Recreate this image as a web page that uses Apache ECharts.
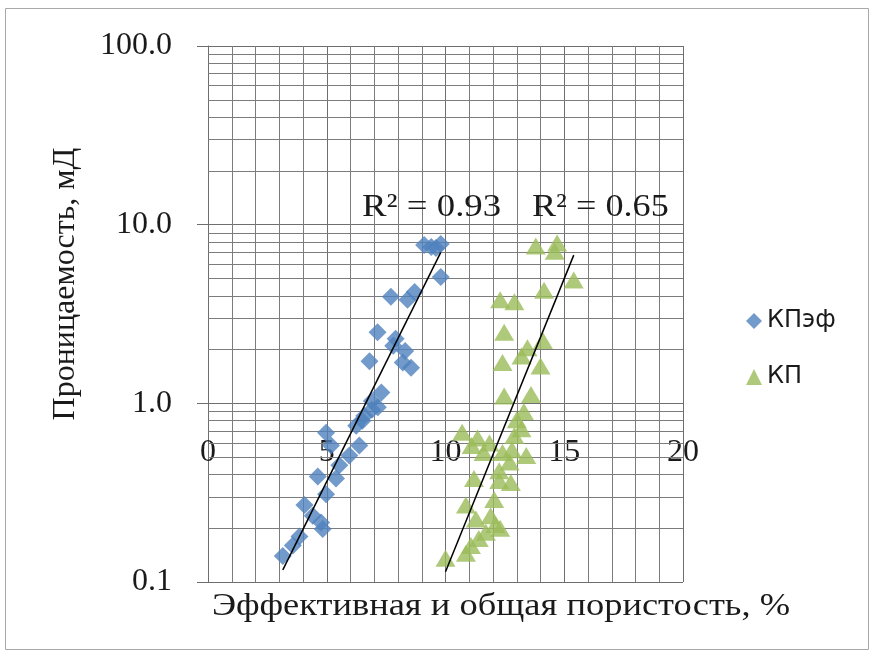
<!DOCTYPE html>
<html>
<head>
<meta charset="utf-8">
<script src="https://cdn.jsdelivr.net/npm/echarts@6/dist/echarts.min.js"></script>
<style>
  html, body { margin: 0; padding: 0; background: #ffffff; }
  #chart { width: 876px; height: 657px; }
</style>
</head>
<body>
<div id="chart"></div>
<script>
// Effective porosity (%) vs permeability (mD)
const effPorosity = [9.1, 9.4, 9.8, 9.6, 9.8, 7.7, 8.4, 8.7, 7.14, 7.9, 7.8, 8.3, 6.8, 8.2, 8.55,
  7.3, 6.9, 7.15, 6.9, 6.58, 6.5, 6.24, 4.97, 5.18, 6.37, 5.95, 5.53, 4.62, 5.39, 4.97,
  4.06, 4.41, 4.76, 4.83, 3.85, 3.57, 3.15];
const effPerm = [7.7, 7.5, 7.8, 7.4, 5.1, 3.95, 3.8, 4.2, 2.5, 2.3, 2.1, 1.96, 1.72, 1.69, 1.58,
  1.15, 1.03, 0.95, 0.92, 0.85, 0.8, 0.75, 0.685, 0.58, 0.58, 0.51, 0.45, 0.39, 0.38, 0.31,
  0.27, 0.235, 0.215, 0.198, 0.18, 0.16, 0.14];

// Total porosity (%) vs permeability (mD)
const totPorosity = [13.8, 14.7, 14.6, 15.4, 14.15, 12.3, 12.9, 12.47, 14.1, 13.45, 13.2, 14.0, 12.4,
  12.47, 13.6, 13.0, 13.3, 13.2, 12.9, 10.7, 11.35, 11.85, 11.1, 11.6, 12.4, 12.8, 13.4, 12.7,
  12.26, 11.2, 12.26, 12.75, 12.05, 10.86, 11.28, 11.9, 12.1, 12.3, 11.7, 11.4, 11.07, 10.86, 10.0];
const totPerm = [7.6, 7.9, 7.1, 4.9, 4.3, 3.8, 3.7, 2.5, 2.25, 2.05, 1.84, 1.62, 1.69,
  1.1, 1.12, 0.81, 0.9, 0.72, 0.66, 0.69, 0.64, 0.6, 0.58, 0.53, 0.53, 0.55, 0.51, 0.47,
  0.42, 0.38, 0.37, 0.36, 0.29, 0.27, 0.225, 0.235, 0.21, 0.2, 0.19, 0.175, 0.16, 0.145, 0.136];

const seriesNames = ['КПэф', 'КП'];
const r2Texts = ['R² = 0.93', 'R² = 0.65'];
const xTitle = 'Эффективная и общая пористость, %';
const yTitle = 'Проницаемость, мД';
const xMin = 0, xMax = 20, xStep = 5;
const yMin = 0.1, yMax = 100;

const BLUE = '#4F81BD';
const GREEN = '#9BBB59';
const GRID_MAJOR = '#6e6e6e';
const GRID_MINOR = '#7c7c7c';
const SERIF = 'Liberation Serif';
const TEXT = '#1a1a1a';

function pairs(xs, ys) { return xs.map((x, i) => [x, ys[i]]); }

// Exponential least-squares fit (straight line on the log axis), spanning the data's x range
function expTrend(xs, ys) {
  const n = xs.length;
  const ly = ys.map(v => Math.log10(v));
  const mx = xs.reduce((a, b) => a + b, 0) / n;
  const my = ly.reduce((a, b) => a + b, 0) / n;
  let sxy = 0, sxx = 0;
  for (let i = 0; i < n; i++) { sxy += (xs[i] - mx) * (ly[i] - my); sxx += (xs[i] - mx) ** 2; }
  const b = sxy / sxx, a = my - b * mx;
  const x0 = Math.min(...xs), x1 = Math.max(...xs);
  return [[x0, Math.pow(10, a + b * x0)], [x1, Math.pow(10, a + b * x1)]];
}

// Minor log grid values: 2..9 within each decade
const minorLogValues = [];
for (let d = yMin; d < yMax; d *= 10) {
  for (let k = 2; k <= 9; k++) minorLogValues.push(+(d * k).toPrecision(3));
}

const chart = echarts.init(document.getElementById('chart'), null, { renderer: 'canvas' });

chart.setOption({
  backgroundColor: '#ffffff',
  animation: false,
  grid: { left: 208, right: 193, top: 46, bottom: 75 },
  legend: {
    orient: 'vertical',
    left: 741,
    top: 304,
    itemGap: 32,
    itemWidth: 16,
    itemHeight: 16,
    data: seriesNames,
    textStyle: { fontFamily: 'DejaVu Sans', fontSize: 24, color: TEXT }
  },
  xAxis: {
    type: 'value',
    min: xMin, max: xMax, interval: xStep,
    position: 'bottom',
    offset: -178,
    axisLine: { show: false },
    axisTick: { show: false },
    axisLabel: { margin: 33, fontFamily: SERIF, fontSize: 32, color: TEXT },
    splitLine: { show: true, lineStyle: { color: GRID_MAJOR, width: 1 } },
    minorTick: { show: false, splitNumber: 5 },
    minorSplitLine: { show: true, lineStyle: { color: GRID_MINOR, width: 1 } }
  },
  yAxis: {
    type: 'log',
    logBase: 10,
    min: yMin, max: yMax,
    axisLine: { show: true, lineStyle: { color: GRID_MAJOR } },
    axisTick: { show: true, length: 11, lineStyle: { color: GRID_MAJOR } },
    axisLabel: {
      margin: 36, fontFamily: SERIF, fontSize: 32, color: TEXT,
      formatter: v => Number(v).toFixed(1)
    },
    splitLine: { show: true, lineStyle: { color: GRID_MAJOR, width: 1 } }
  },
  series: [
    {
      name: seriesNames[0],
      type: 'scatter',
      symbol: 'diamond',
      symbolSize: [18, 18],
      itemStyle: { color: BLUE },
      z: 5,
      data: pairs(effPorosity, effPerm),
      markLine: {
        silent: true,
        symbol: 'none',
        label: { show: false },
        lineStyle: { color: GRID_MINOR, width: 1, type: 'solid' },
        z: 1,
        data: minorLogValues.map(v => ({ yAxis: v }))
      }
    },
    {
      name: seriesNames[1],
      type: 'scatter',
      symbol: 'triangle',
      symbolSize: [20, 17],
      itemStyle: { color: GREEN },
      z: 5,
      data: pairs(totPorosity, totPerm)
    },
    {
      name: 'trend-eff',
      type: 'line',
      symbol: 'none',
      lineStyle: { color: '#000', width: 1.5 },
      z: 6,
      data: expTrend(effPorosity, effPerm)
    },
    {
      name: 'trend-tot',
      type: 'line',
      symbol: 'none',
      lineStyle: { color: '#000', width: 1.5 },
      z: 6,
      data: expTrend(totPorosity, totPerm)
    }
  ],
  graphic: [
    {
      type: 'rect', silent: true, z: -10,
      shape: { x: 5.5, y: 8.5, width: 863, height: 641 },
      style: { fill: 'none', stroke: '#a8a8a8', lineWidth: 1 }
    },
    {
      type: 'text', x: 66, y: 284, rotation: Math.PI / 2,
      style: { text: yTitle, font: '32px "' + SERIF + '"', fill: TEXT, align: 'center', verticalAlign: 'middle' }
    },
    {
      type: 'text', x: 501, y: 607, scaleX: 1.14,
      style: { text: xTitle, font: '32px "' + SERIF + '"', fill: TEXT, align: 'center', verticalAlign: 'middle' }
    },
    {
      type: 'text', x: 362, y: 208, z: 10, scaleX: 1.15,
      style: { text: r2Texts[0], font: '32px "' + SERIF + '"', fill: TEXT, align: 'left', verticalAlign: 'middle' }
    },
    {
      type: 'text', x: 532, y: 208, z: 10, scaleX: 1.13,
      style: { text: r2Texts[1], font: '32px "' + SERIF + '"', fill: TEXT, align: 'left', verticalAlign: 'middle' }
    }
  ]
});
</script>
</body>
</html>
